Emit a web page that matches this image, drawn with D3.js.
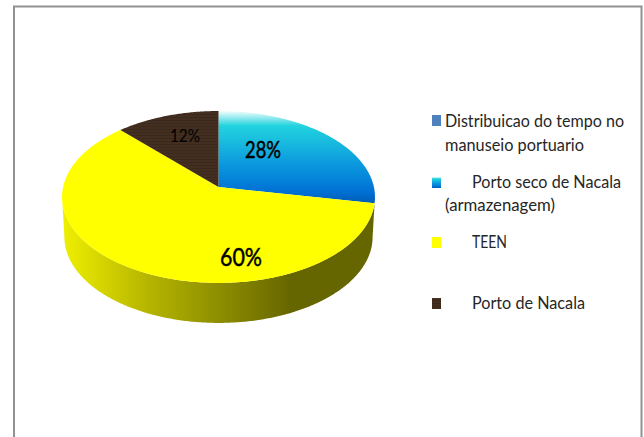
<!DOCTYPE html>
<html>
<head>
<meta charset="utf-8">
<script src="https://cdn.jsdelivr.net/npm/d3@7"></script>
<style>
html, body { margin: 0; padding: 0; background: #fff; overflow: hidden; }
svg { display: block; }
text { font-family: Lato, "Open Sans", sans-serif; }
</style>
</head>
<body>
<div id="viz"></div>
<script>
"use strict";

var categories = ["Distribuicao do tempo no manuseio portuario", "Porto seco de Nacala (armazenagem)", "TEEN", "Porto de Nacala"];
var values = [0, 28, 60, 12];
var valueLabels = ["", "28%", "60%", "12%"];
var legendLines = [
	[{ text: "Distribuicao do tempo no", indent: 0, len: 179 }, { text: "manuseio portuario", indent: 0, len: 139 }],
	[{ text: "Porto seco de Nacala", indent: 27, len: 149 }, { text: "(armazenagem)", indent: 0, len: 110 }],
	[{ text: "TEEN", indent: 27, len: 35 }],
	[{ text: "Porto de Nacala", indent: 27, len: 113 }]
];

var width = 644, height = 437;
var apex = { x: 218.5, y: 187 },
	radiusX = 155.4,
	radiusY = 84.8,
	tilt = 0.116,
	depth = 40,
	bottomShrink = 0.985;

// perspective of the disc: centre of the pie lands on the apex, not the ellipse centre
var project = function(angle) {
	var u = Math.sin(angle),
		v = -Math.cos(angle),
		w = 1 - tilt * v;
	return [apex.x + radiusX * u / w, apex.y + radiusY * v / w];
};

var rimPoints = function(start, end) {
	var steps = Math.max(2, Math.ceil((end - start) / 0.01));
	return d3.range(steps + 1).map(function(i) {
		return project(start + (end - start) * i / steps);
	});
};

var line = d3.line();

var svg = d3.select("#viz").append("svg")
	.attr("width", width)
	.attr("height", height);

var defs = svg.append("defs");

var addGradient = function(id, vertical, stops) {
	var g = defs.append("linearGradient")
		.attr("id", id)
		.attr("x1", 0).attr("y1", 0)
		.attr("x2", vertical ? 0 : 1).attr("y2", vertical ? 1 : 0);
	stops.forEach(function(s) {
		g.append("stop").attr("offset", s[0]).attr("stop-color", s[1]);
	});
};

addGradient("cyanFill", true, [[0, "#f4fdfd"], [0.16, "#22d3de"], [0.6, "#0a96de"], [0.88, "#0070d4"], [1, "#005cb4"]]);
addGradient("wallFill", false, [[0, "#f0f000"], [0.12, "#d6d600"], [0.28, "#b4b400"], [0.73, "#666600"], [1, "#666600"]]);

var stripes = defs.append("pattern")
	.attr("id", "brownFill")
	.attr("patternUnits", "userSpaceOnUse")
	.attr("width", 4).attr("height", 3);
stripes.append("rect").attr("width", 4).attr("height", 3).attr("fill", "#432e20");
stripes.append("rect").attr("width", 4).attr("height", 1).attr("fill", "#3b291d");

var fills = ["#4f81bd", "url(#cyanFill)", "#ffff00", "url(#brownFill)"];

// frame, open at the bottom
svg.append("path")
	.attr("d", line([[14, height], [14, 6.5], [641.5, 6.5], [641.5, height]]))
	.attr("fill", "none")
	.attr("stroke", "#929292")
	.attr("stroke-width", 2);

// side wall
var wallStart = Math.acos(-tilt),
	wallEnd = 2 * Math.PI - wallStart,
	wallTop = rimPoints(wallStart, wallEnd),
	wallBottom = wallTop.map(function(p) {
		return [apex.x + (p[0] - apex.x) * bottomShrink, p[1] + depth];
	}).reverse();

svg.append("path")
	.attr("d", line(wallTop.concat(wallBottom)) + "Z")
	.attr("fill", "url(#wallFill)");

// top face
var pie = d3.pie().sort(null)(values);

svg.selectAll("path.slice")
	.data(pie.filter(function(d) { return d.value > 0; }))
	.enter()
	.append("path")
	.attr("class", "slice")
	.attr("d", function(d) {
		return line([[apex.x, apex.y]].concat(rimPoints(d.startAngle, d.endAngle))) + "Z";
	})
	.attr("fill", function(d) { return fills[d.index]; });

// data labels
var labelSpots = {
	"28%": { x: 263, y: 158, size: 23, stroke: 0.5, len: 36 },
	"60%": { x: 241, y: 266, size: 25, stroke: 0.5, len: 42 },
	"12%": { x: 185, y: 141.5, size: 18, stroke: 0, len: 30 }
};

svg.selectAll("text.value")
	.data(valueLabels.filter(function(d) { return d; }))
	.enter()
	.append("text")
	.attr("class", "value")
	.attr("x", function(d) { return labelSpots[d].x; })
	.attr("y", function(d) { return labelSpots[d].y; })
	.attr("text-anchor", "middle")
	.attr("font-size", function(d) { return labelSpots[d].size; })
	.attr("stroke", "#000")
	.attr("stroke-width", function(d) { return labelSpots[d].stroke; })
	.attr("textLength", function(d) { return labelSpots[d].len; })
	.attr("lengthAdjust", "spacingAndGlyphs")
	.attr("fill", "#000")
	.text(function(d) { return d; });

// legend
var legendSwatch = d3.scaleOrdinal().domain(categories).range([115, 177, 237, 298]);
var legendBaselines = [[127, 151], [188, 211], [248], [309]];

var legend = svg.selectAll("g.legend")
	.data(categories)
	.enter()
	.append("g")
	.attr("class", "legend");

legend.append("rect")
	.attr("x", 432)
	.attr("y", function(d) { return legendSwatch(d); })
	.attr("width", 9)
	.attr("height", 11)
	.attr("fill", function(d, i) { return fills[i]; });

legend.each(function(d, i) {
	d3.select(this).selectAll("text")
		.data(legendLines[i])
		.enter()
		.append("text")
		.attr("x", function(l) { return 445 + l.indent; })
		.attr("y", function(l, j) { return legendBaselines[i][j]; })
		.attr("font-size", 17)
		.attr("fill", "#262626")
		.attr("textLength", function(l) { return l.len; })
		.attr("lengthAdjust", "spacingAndGlyphs")
		.text(function(l) { return l.text; });
});
</script>
</body>
</html>
